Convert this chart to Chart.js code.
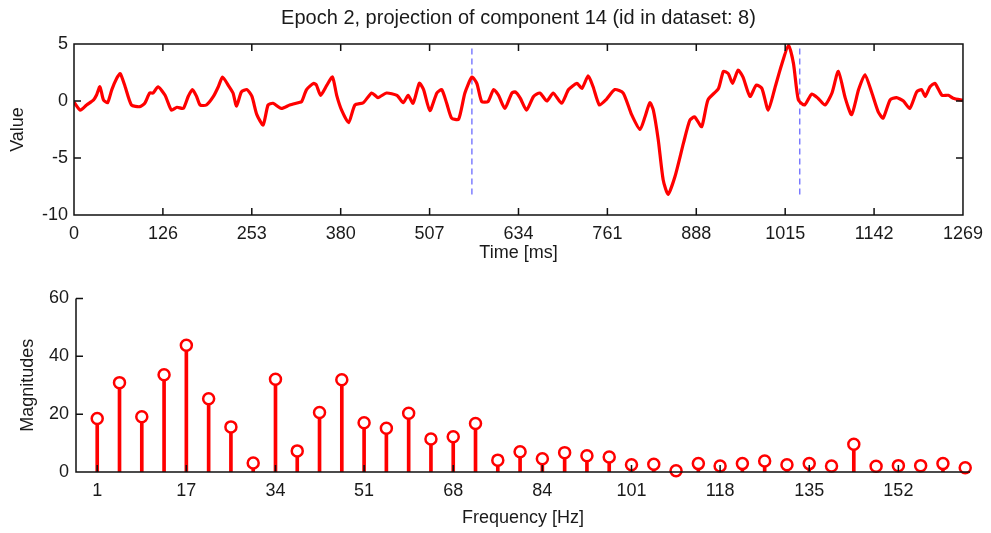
<!DOCTYPE html>
<html>
<head>
<meta charset="utf-8">
<script src="https://cdn.jsdelivr.net/npm/chart.js@4.4.1/dist/chart.umd.min.js"></script>
<style>
  body { margin: 0; background: #fff; }
  canvas { position: absolute; left: 0; }
  #epoch { top: 0; }
  #spectrum { top: 265px; }
</style>
</head>
<body>
<canvas id="epoch" width="991" height="265"></canvas>
<canvas id="spectrum" width="991" height="268"></canvas>
<script>
// --- top panel: projected component over time ---
const times = [0, 9, 18, 28, 32, 37, 42, 48, 54, 61, 66, 73, 82, 94, 101, 108, 113, 120, 130, 139,
  147, 156, 163, 169, 175, 180, 189, 199, 206, 212, 220, 227, 232, 239, 247, 254, 261, 270, 277, 284,
  296, 308, 320, 325, 332, 342, 346, 352, 361, 369, 375, 382, 392, 401, 413, 425, 434, 446, 461, 470,
  477, 484, 493, 499, 508, 518, 525, 532, 539, 549, 558, 568, 575, 582, 591, 599, 606, 615, 625, 630,
  637, 646, 656, 665, 675, 684, 696, 706, 718, 725, 734, 741, 750, 760, 772, 784, 796, 808, 815, 822,
  827, 834, 841, 848, 858, 870, 879, 886, 896, 905, 920, 927, 934, 940, 948, 955, 965, 974, 982, 991,
  1001, 1010, 1020, 1027, 1034, 1043, 1053, 1062, 1072, 1082, 1091, 1101, 1110, 1120, 1129, 1139, 1148, 1155, 1165, 1174,
  1184, 1193, 1203, 1210, 1215, 1222, 1229, 1239, 1248, 1255, 1269];
const values = [-0.1, -0.8, -0.35, 0.1, 0.5, 1.25, 0.1, -0.15, 1.0, 2.0, 2.4, 1.25, -0.35, -0.5, -0.2, 0.7, 0.7, 1.25, 0.5, -0.8,
  -0.55, -0.65, 0.4, 1.0, 0.4, -0.35, -0.35, 0.4, 1.25, 2.1, 1.4, 0.7, -0.45, 0.8, 1.0, 0.4, -1.2, -2.1, -0.35, -0.2,
  -0.65, -0.35, -0.15, -0.05, 1.0, 1.55, 1.4, 0.5, 1.4, 2.1, 0.5, -0.8, -1.9, -0.35, -0.15, 0.7, 0.3, 0.7, 0.5, -0.15,
  0.5, -0.2, 1.55, 1.0, -0.85, 0.7, 1.0, -0.2, -1.5, -1.6, 0.7, 2.1, 1.55, -0.05, -0.05, 1.0, 0.5, -0.65, 0.7, 0.8,
  0.25, -0.8, 0.4, 0.7, 0.0, 0.7, -0.2, 1.0, 1.55, 1.1, 2.2, 1.25, -0.35, 0.15, 1.0, 0.7, -1.2, -2.5, -1.4, -0.15,
  -0.8, -3.4, -6.9, -8.2, -6.6, -3.7, -1.7, -1.4, -2.25, 0.1, 1.1, 2.6, 2.4, 1.55, 2.7, 2.1, 0.4, 1.4, 1.1, -0.8,
  1.25, 3.15, 4.9, 3.3, 0.1, -0.35, 0.6, 0.25, -0.35, 0.7, 2.6, 0.25, -1.2, 1.0, 2.3, 0.7, -0.95, -1.5, 0.1, 0.3,
  0.0, -0.65, 0.8, 1.0, 0.4, 1.25, 1.55, 0.5, 0.5, 0.25, 0.05];
const markerTimes = [568, 1036];
const timeTicks = [0, 126.9, 253.8, 380.7, 507.6, 634.5, 761.4, 888.3, 1015.2, 1142.1, 1269];
const timeTickLabels = ['0', '126', '253', '380', '507', '634', '761', '888', '1015', '1142', '1269'];

// --- bottom panel: spectrum ---
const freqs = [1.0, 5.2, 9.4, 13.6, 17.8, 22.0, 26.2, 30.4, 34.6, 38.7,
  42.9, 47.1, 51.3, 55.5, 59.7, 63.9, 68.1, 72.3, 76.5, 80.7,
  84.9, 89.1, 93.3, 97.5, 101.7, 105.9, 110.1, 114.3, 118.4, 122.6,
  126.8, 131.0, 135.2, 139.4, 143.6, 147.8, 152.0, 156.2, 160.4, 164.6];
const magnitudes = [18.5, 30.9, 19.1, 33.6, 43.8, 25.3, 15.6, 3.1, 32.1, 7.3,
  20.6, 31.9, 17.0, 15.1, 20.3, 11.4, 12.2, 16.8, 4.1, 7.0,
  4.6, 6.7, 5.6, 5.2, 2.5, 2.7, 0.4, 2.9, 2.1, 2.9,
  3.8, 2.5, 2.9, 2.1, 9.6, 2.0, 2.2, 2.2, 2.9, 1.5];
const freqTicks = [1.0, 17.8, 34.6, 51.3, 68.1, 84.9, 101.7, 118.4, 135.2, 152.0];
const freqTickLabels = ['1', '17', '34', '51', '68', '84', '101', '118', '135', '152'];

const family = '"Liberation Sans", Arial, Helvetica, sans-serif';
const txt = '#1a1a1a';
const tickFont = { family, size: 18 };

// matlab look: frame plus inward tick marks
const matlabAxes = {
  id: 'matlabAxes',
  afterDraw(chart, args, opts) {
    const { ctx, chartArea: a, scales } = chart;
    const len = 7;
    ctx.save();
    ctx.strokeStyle = '#111';
    ctx.lineWidth = 1.5;
    ctx.beginPath();
    if (opts.box) {
      ctx.rect(a.left, a.top, a.right - a.left, a.bottom - a.top);
    } else {
      ctx.moveTo(a.left, a.top);
      ctx.lineTo(a.left, a.bottom);
      ctx.lineTo(a.right, a.bottom);
    }
    scales.x.ticks.forEach(t => {
      const px = scales.x.getPixelForValue(t.value);
      ctx.moveTo(px, a.bottom); ctx.lineTo(px, a.bottom - len);
      if (opts.box) { ctx.moveTo(px, a.top); ctx.lineTo(px, a.top + len); }
    });
    scales.y.ticks.forEach(t => {
      const py = scales.y.getPixelForValue(t.value);
      ctx.moveTo(a.left, py); ctx.lineTo(a.left + len, py);
      if (opts.box) { ctx.moveTo(a.right, py); ctx.lineTo(a.right - len, py); }
    });
    ctx.stroke();
    ctx.restore();
  }
};

const vmin = Math.min(...values), vmax = Math.max(...values);

new Chart(document.getElementById('epoch'), {
  type: 'line',
  data: {
    datasets: [
      {
        data: times.map((t, i) => ({ x: t, y: values[i] })),
        borderColor: '#ff0000',
        borderWidth: 3.2,
        pointRadius: 0,
        tension: 0.2
      },
      ...markerTimes.map(t => ({
        data: [{ x: t, y: vmin }, { x: t, y: vmax }],
        borderColor: '#6b6bff',
        borderWidth: 1.3,
        borderDash: [6, 4],
        pointRadius: 0
      }))
    ]
  },
  options: {
    responsive: false,
    animation: false,
    devicePixelRatio: 1,
    layout: { padding: { left: 0, right: 27, top: 0, bottom: 0 } },
    plugins: {
      legend: { display: false },
      tooltip: { enabled: false },
      title: {
        display: true,
        fullSize: false,
        text: 'Epoch 2, projection of component 14 (id in dataset: 8)',
        color: txt,
        font: { family, size: 20, weight: 'normal' },
        padding: { top: 6, bottom: 14 }
      },
      matlabAxes: { box: true }
    },
    scales: {
      x: {
        type: 'linear',
        min: 0,
        max: 1269,
        afterBuildTicks: s => { s.ticks = timeTicks.map(v => ({ value: v })); },
        afterFit: s => { s.height = 50; },
        ticks: { callback: (v, i) => timeTickLabels[i], font: tickFont, color: txt, padding: 8, maxRotation: 0, autoSkip: false },
        grid: { display: false, drawTicks: false },
        border: { display: false },
        title: { display: true, text: 'Time [ms]', color: txt, font: tickFont, padding: { top: 0, bottom: 1 } }
      },
      y: {
        min: -10,
        max: 5,
        afterFit: s => { s.width = 74; },
        ticks: { stepSize: 5, font: tickFont, color: txt, padding: 6 },
        grid: { display: false, drawTicks: false },
        border: { display: false },
        title: { display: true, text: 'Value', color: txt, font: tickFont, padding: { top: 7, bottom: 0 } }
      }
    }
  },
  plugins: [matlabAxes]
});

new Chart(document.getElementById('spectrum'), {
  type: 'bar',
  data: {
    datasets: [
      {
        type: 'line',
        data: freqs.map((f, i) => ({ x: f, y: magnitudes[i] })),
        showLine: false,
        pointRadius: 5.5,
        pointBorderWidth: 2.5,
        pointBorderColor: '#ff0000',
        pointBackgroundColor: '#ffffff',
        clip: false,
        order: 0
      },
      {
        type: 'bar',
        data: freqs.map((f, i) => ({ x: f, y: magnitudes[i] })),
        backgroundColor: '#ff0000',
        barThickness: 3,
        order: 1
      }
    ]
  },
  options: {
    responsive: false,
    animation: false,
    devicePixelRatio: 1,
    layout: { padding: { left: 0, right: 21, top: 33.5, bottom: 0 } },
    plugins: {
      legend: { display: false },
      tooltip: { enabled: false },
      matlabAxes: { box: false }
    },
    scales: {
      x: {
        type: 'linear',
        min: -3,
        max: 165.5,
        offset: false,
        afterBuildTicks: s => { s.ticks = freqTicks.map(v => ({ value: v })); },
        afterFit: s => { s.height = 61; },
        ticks: { callback: (v, i) => freqTickLabels[i], font: tickFont, color: txt, padding: 8, maxRotation: 0, autoSkip: false },
        grid: { display: false, drawTicks: false },
        border: { display: false },
        title: { display: true, text: 'Frequency [Hz]', color: txt, font: tickFont, padding: { top: 0, bottom: 4 } }
      },
      y: {
        min: 0,
        max: 60,
        afterFit: s => { s.width = 76; },
        ticks: { stepSize: 20, font: tickFont, color: txt, padding: 7 },
        grid: { display: false, drawTicks: false },
        border: { display: false },
        title: { display: true, text: 'Magnitudes', color: txt, font: tickFont, padding: { top: 17, bottom: 0 } }
      }
    }
  },
  plugins: [matlabAxes]
});
</script>
</body>
</html>
